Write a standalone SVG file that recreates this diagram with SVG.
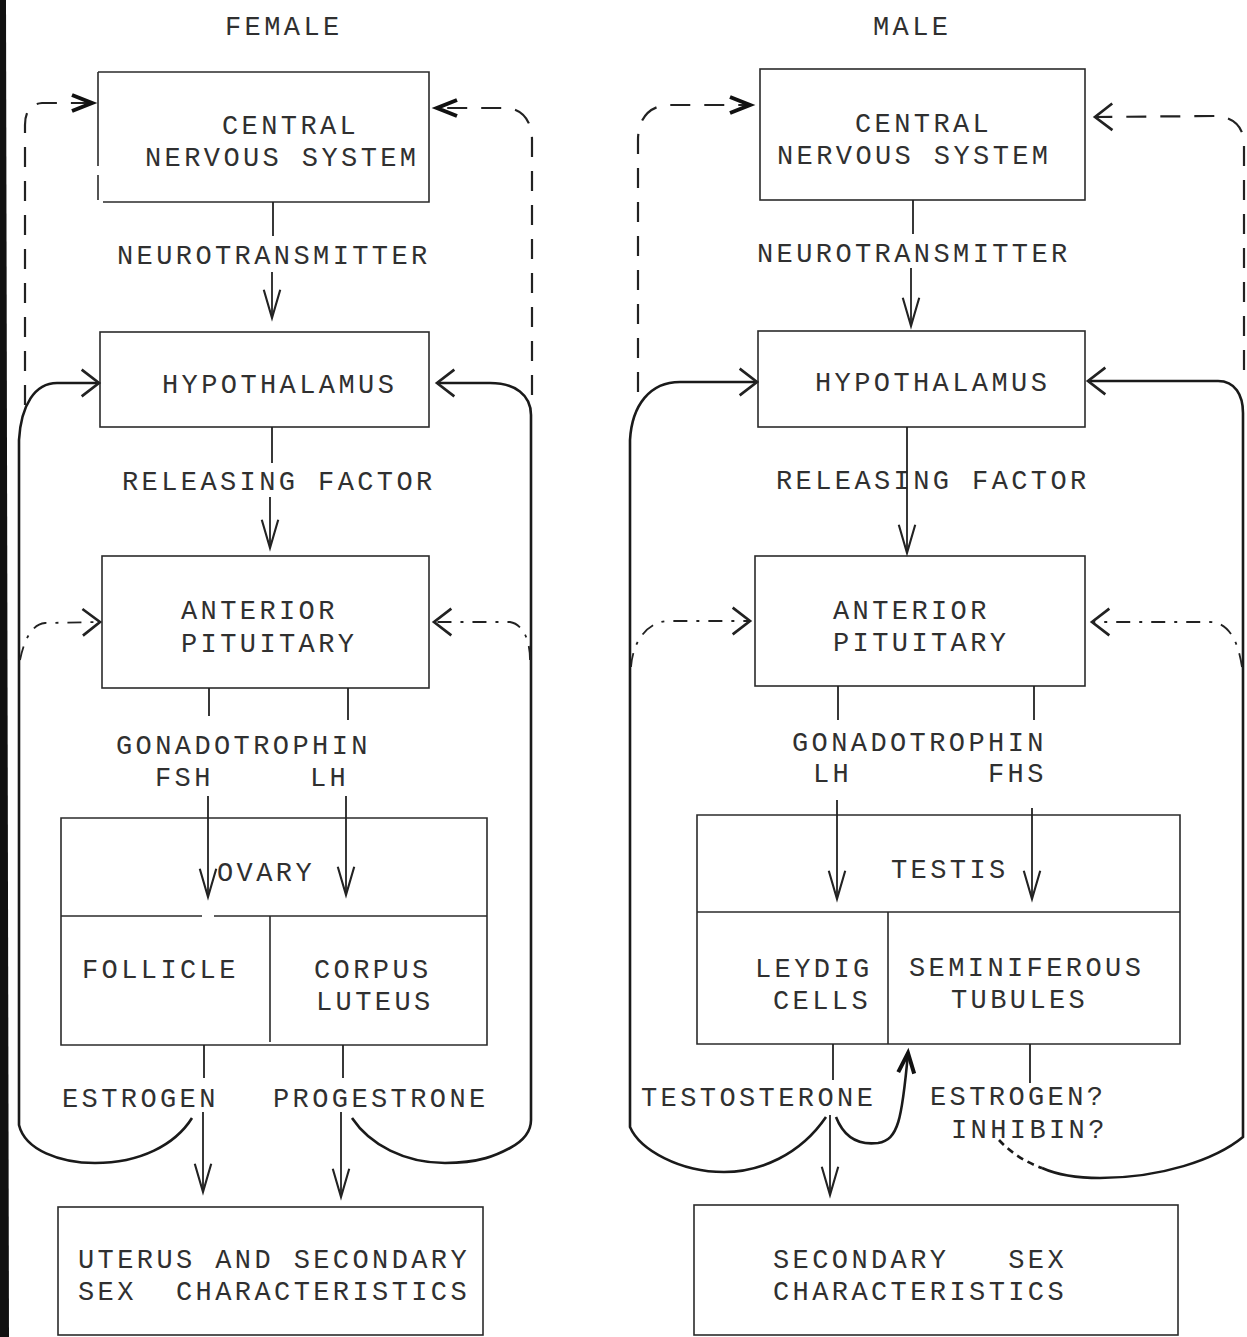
<svg xmlns="http://www.w3.org/2000/svg" width="1247" height="1337" viewBox="0 0 1247 1337">
<style>
text{font-family:"Liberation Mono","DejaVu Sans Mono",monospace;font-size:27px;letter-spacing:3.4px;fill:#303030}
.box{fill:none;stroke:#2b2b2b;stroke-width:1.6}
.ln{fill:none;stroke:#222;stroke-width:1.8}
.fb{fill:none;stroke:#1a1a1a;stroke-width:2.6}
.ds{fill:none;stroke:#222;stroke-width:2.2;stroke-dasharray:20 14}
.dd{fill:none;stroke:#222;stroke-width:1.8;stroke-dasharray:14 9 3 9}
</style>
<defs>
<marker id="aDown" markerUnits="userSpaceOnUse" markerWidth="40" markerHeight="40" refX="0" refY="0" viewBox="-30 -15 34 30" orient="auto" overflow="visible"><path d="M-24 -7 L0 0 L-24 7" fill="none" stroke="#222" stroke-width="1.8"/></marker>
<marker id="aSide" markerUnits="userSpaceOnUse" markerWidth="40" markerHeight="40" refX="0" refY="0" viewBox="-20 -15 24 30" orient="auto" overflow="visible"><path d="M-13 -10 L0 0 L-13 10" fill="none" stroke="#222" stroke-width="2"/></marker>
<marker id="aBold" markerUnits="userSpaceOnUse" markerWidth="40" markerHeight="40" refX="0" refY="0" viewBox="-20 -15 24 30" orient="auto" overflow="visible"><path d="M-15 -6 L0 0 L-15 6" fill="none" stroke="#111" stroke-width="3"/></marker>
</defs>
<rect width="1247" height="1337" fill="#fff"/>
<polygon points="0,0 6,0 9,1337 0,1337" fill="#111"/>

<text x="225" y="35">FEMALE</text>
<text x="873" y="35">MALE</text>

<g id="f-cns"><path class="box" d="M98 72 H429 V202 H103 M98 72 V166 M98 175 V200"/><text x="222" y="134">CENTRAL</text><text x="145" y="166">NERVOUS SYSTEM</text></g>
<g id="f-hyp"><rect class="box" x="100" y="332" width="329" height="95"/><text x="162" y="393">HYPOTHALAMUS</text></g>
<g id="f-pit"><rect class="box" x="102" y="556" width="327" height="132"/><text x="181" y="619">ANTERIOR</text><text x="181" y="652">PITUITARY</text></g>
<g id="f-ovary"><path class="box" d="M61 818 H487 V1045 H61 Z M61 916 H202 M214 916 H487 M270 916 V1042"/><text x="217" y="881">OVARY</text><text x="82" y="978">FOLLICLE</text><text x="314" y="978">CORPUS</text><text x="316" y="1010">LUTEUS</text></g>
<g id="f-target"><rect class="box" x="58" y="1207" width="425" height="128"/><text x="78" y="1268" xml:space="preserve">UTERUS AND SECONDARY</text><text x="78" y="1300" xml:space="preserve">SEX  CHARACTERISTICS</text></g>

<g id="m-cns"><rect class="box" x="760" y="69" width="325" height="131"/><text x="855" y="132">CENTRAL</text><text x="777" y="164">NERVOUS SYSTEM</text></g>
<g id="m-hyp"><rect class="box" x="758" y="331" width="327" height="96"/><text x="815" y="391">HYPOTHALAMUS</text></g>
<g id="m-pit"><rect class="box" x="755" y="556" width="330" height="130"/><text x="833" y="619">ANTERIOR</text><text x="833" y="651">PITUITARY</text></g>
<g id="m-testis"><path class="box" d="M697 815 H1180 V1044 H697 Z M697 912 H1180 M888 912 V1044"/><text x="891" y="878">TESTIS</text><text x="755" y="977">LEYDIG</text><text x="773" y="1009">CELLS</text><text x="909" y="976">SEMINIFEROUS</text><text x="951" y="1008">TUBULES</text></g>
<g id="m-target"><rect class="box" x="694" y="1205" width="484" height="130"/><text x="773" y="1268" xml:space="preserve">SECONDARY   SEX</text><text x="773" y="1300">CHARACTERISTICS</text></g>

<g id="labels">
<text x="117" y="264">NEUROTRANSMITTER</text>
<text x="122" y="490">RELEASING FACTOR</text>
<text x="116" y="754">GONADOTROPHIN</text>
<text x="155" y="786">FSH</text><text x="310" y="786">LH</text>
<text x="62" y="1107">ESTROGEN</text>
<text x="273" y="1107">PROGESTRONE</text>
<text x="757" y="262">NEUROTRANSMITTER</text>
<text x="776" y="489">RELEASING FACTOR</text>
<text x="792" y="751">GONADOTROPHIN</text>
<text x="813" y="782">LH</text><text x="988" y="782">FHS</text>
<text x="641" y="1106">TESTOSTERONE</text>
<text x="930" y="1105">ESTROGEN?</text>
<text x="951" y="1138">INHIBIN?</text>
</g>

<g id="connectors">
<path class="ln" d="M273 202 V236"/>
<path class="ln" d="M272 272 V318" marker-end="url(#aDown)"/>
<path class="ln" d="M272 427 V463"/>
<path class="ln" d="M270 497 V548" marker-end="url(#aDown)"/>
<path class="ln" d="M209 688 V716"/>
<path class="ln" d="M348 688 V720"/>
<path class="ln" d="M208 796 V897" marker-end="url(#aDown)"/>
<path class="ln" d="M346 796 V895" marker-end="url(#aDown)"/>
<path class="ln" d="M204 1045 V1078"/>
<path class="ln" d="M203 1112 V1192" marker-end="url(#aDown)"/>
<path class="ln" d="M343 1045 V1078"/>
<path class="ln" d="M341 1112 V1197" marker-end="url(#aDown)"/>
<path class="fb" d="M192 1118 C175 1145 140 1163 95 1163 C60 1163 25 1150 19 1125 L19 440 C21 405 35 383 57 383 L99 383" marker-end="url(#aSide)"/>
<path class="fb" d="M352 1118 C370 1145 405 1163 445 1163 C480 1163 497 1155 510 1148 C525 1140 531 1130 531 1120 L531 415 C531 395 515 383 490 383 L437 383" marker-end="url(#aSide)"/>
<path class="ds" d="M25 405 L25 125 C25 112 30 104 42 103 L92 103" marker-end="url(#aBold)"/>
<path class="ds" d="M532 395 L532 140 C532 124 525 110 508 108 L437 108" marker-end="url(#aBold)"/>
<path class="dd" d="M20 660 C24 640 32 624 45 623 L100 622" marker-end="url(#aSide)"/>
<path class="dd" d="M530 660 C530 638 522 624 510 622 L434 622" marker-end="url(#aSide)"/>
<path class="ln" d="M913 200 V234"/>
<path class="ln" d="M911 268 V326" marker-end="url(#aDown)"/>
<path class="ln" d="M907 427 V553" marker-end="url(#aDown)"/>
<path class="ln" d="M838 686 V720"/>
<path class="ln" d="M1034 686 V720"/>
<path class="ln" d="M837 800 V899" marker-end="url(#aDown)"/>
<path class="ln" d="M1032 808 V899" marker-end="url(#aDown)"/>
<path class="ln" d="M833 1044 V1080"/>
<path class="ln" d="M830 1115 V1195" marker-end="url(#aDown)"/>
<path class="ln" d="M1030 1044 V1083"/>
<path class="fb" d="M836 1117 C845 1140 862 1145 878 1143 C898 1140 902 1120 908 1053" marker-end="url(#aBold)"/>
<path class="fb" d="M826 1117 C800 1155 760 1172 724 1172 C680 1172 640 1150 630 1127 L630 440 C632 405 650 382 680 382 L757 382" marker-end="url(#aSide)"/>
<path class="fb" stroke-dasharray="7 5" d="M999 1140 C1010 1152 1025 1162 1042 1168"/>
<path class="fb" d="M1042 1168 C1060 1176 1080 1178 1100 1178 C1160 1178 1215 1160 1243 1137 L1243 413 C1243 395 1235 381 1218 381 L1088 381" marker-end="url(#aSide)"/>
<path class="ds" d="M638 392 L638 140 C638 120 648 106 668 105 L750 105" marker-end="url(#aBold)"/>
<path class="ds" d="M1244 370 L1244 145 C1244 128 1235 117 1215 116 L1095 117" marker-end="url(#aSide)"/>
<path class="dd" d="M631 667 C633 640 648 622 668 621 L750 621" marker-end="url(#aSide)"/>
<path class="dd" d="M1242 667 C1238 640 1228 622 1210 622 L1092 622" marker-end="url(#aSide)"/>
</g>
</svg>
